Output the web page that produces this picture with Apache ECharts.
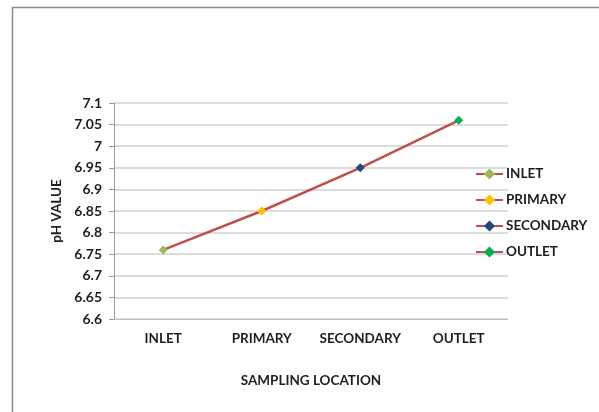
<!DOCTYPE html>
<html><head><meta charset="utf-8">
<script src="https://cdn.jsdelivr.net/npm/echarts@6/dist/echarts.min.js"></script>
<style>html,body{margin:0;padding:0;background:#fff}#c{width:599px;height:412px}</style>
</head><body><div id="c"></div>
<script>
const categories = ['INLET', 'PRIMARY', 'SECONDARY', 'OUTLET'];
const phValues = [6.76, 6.85, 6.95, 7.06];
const markerColors = ['#9BBB59', '#FFC000', '#1F497D', '#00B050'];
const yTicks = { min: 6.6, max: 7.1, interval: 0.05 };

const FONT = 'Lato';
const TXT = '#1e1e1e';
const lineColor = '#C0504D';

const series = [{
  name: 'pH',
  type: 'line',
  data: phValues,
  symbol: 'none',
  lineStyle: { color: lineColor, width: 2.5 },
  z: 2,
  silent: true
}];
categories.forEach((c, i) => {
  series.push({
    name: c,
    type: 'line',
    data: phValues.map((v, j) => j === i ? v : null),
    symbol: 'diamond',
    symbolSize: 9,
    itemStyle: { color: markerColors[i] },
    lineStyle: { color: lineColor, width: 2.5 },
    z: 3
  });
});

const chart = echarts.init(document.getElementById('c'));
chart.setOption({
  animation: false,
  backgroundColor: '#fff',
  graphic: [{
    type: 'rect', shape: { x: 12.5, y: 7.5, width: 700, height: 500 },
    style: { fill: 'none', stroke: '#8c8c8c', lineWidth: 1.5 }, silent: true, z: -1
  }],
  grid: { left: 114, right: 91, top: 103, bottom: 93 },
  legend: {
    orient: 'vertical', left: 475, top: 167, padding: 0,
    itemWidth: 27, itemHeight: 14, itemGap: 12,
    data: categories,
    textStyle: { fontFamily: FONT, fontWeight: 'bold', fontSize: 13.5, color: TXT, padding: [0, 0, 0, -2] }
  },
  xAxis: {
    type: 'category', data: categories, boundaryGap: true,
    name: 'SAMPLING LOCATION', nameLocation: 'middle', nameGap: 55,
    nameTextStyle: { fontFamily: FONT, fontWeight: 'bold', fontSize: 13.5, color: TXT },
    axisLine: { show: true, lineStyle: { color: '#bfbfbf' } },
    axisTick: { show: false },
    axisLabel: { interval: 0, hideOverlap: false, fontFamily: FONT, fontWeight: 'bold', fontSize: 13.5, color: TXT, margin: 13 }
  },
  yAxis: {
    type: 'value', min: yTicks.min, max: yTicks.max, interval: yTicks.interval,
    name: 'pH VALUE', nameLocation: 'middle', nameGap: 42, nameRotate: 90,
    nameTextStyle: { fontFamily: FONT, fontWeight: 'bold', fontSize: 13.5, color: TXT },
    axisLine: { show: true, lineStyle: { color: '#999' } },
    axisTick: { show: true, inside: false, length: 5, lineStyle: { color: '#999' } },
    splitLine: { lineStyle: { color: '#d0d0d0', width: 1.5 } },
    axisLabel: {
      fontFamily: FONT, fontWeight: 'bold', fontSize: 14, color: TXT, margin: 12,
      formatter: v => String(parseFloat(v.toFixed(2)))
    }
  },
  series: series
});
</script></body></html>
